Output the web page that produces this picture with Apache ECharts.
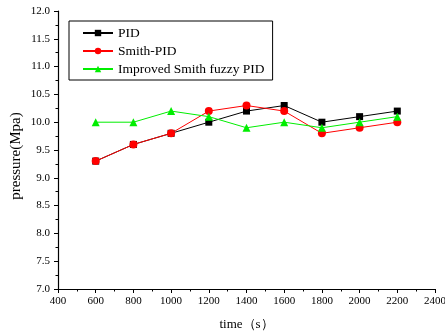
<!DOCTYPE html>
<html><head><meta charset="utf-8">
<script src="https://cdn.jsdelivr.net/npm/echarts@6/dist/echarts.min.js"></script>
<style>html,body{margin:0;padding:0;background:#fff}#c{width:445px;height:332px}</style>
</head><body><div id="c"></div>
<script>
var times = [600, 800, 1000, 1200, 1400, 1600, 1800, 2000, 2200];
var pid = [9.3, 9.6, 9.8, 10.0, 10.2, 10.3, 10.0, 10.1, 10.2];
var smithPid = [9.3, 9.6, 9.8, 10.2, 10.3, 10.2, 9.8, 9.9, 10.0];
var improved = [10.0, 10.0, 10.2, 10.1, 9.9, 10.0, 9.9, 10.0, 10.1];
var seriesNames = ['PID', 'Smith-PID', 'Improved Smith fuzzy PID'];

function pairs(v){ return times.map(function(t,i){ return [t, v[i]]; }); }
var font = 'Liberation Serif, Times New Roman, serif';
var chart = echarts.init(document.getElementById('c'));
chart.setOption({
  animation: false,
  textStyle: {fontFamily: font},
  grid: {left: 58, right: 10, top: 11, bottom: 43, containLabel: false, outerBoundsMode: 'none'},
  legend: {
    left: 69, top: 21, orient: 'vertical',
    padding: [5, 8, 4, 13], itemGap: 4, itemWidth: 30, itemHeight: 8,
    borderColor: '#000', borderWidth: 1,
    textStyle: {fontFamily: font, fontSize: 13.5, color: '#000'},
    data: seriesNames
  },
  xAxis: {
    type: 'value', min: 400, max: 2400, interval: 200,
    name: 'time（s）', nameLocation: 'middle', nameGap: 29,
    nameTextStyle: {fontFamily: font, fontSize: 13, color: '#000'},
    axisLine: {lineStyle: {color: '#000', width: 1.2}},
    axisTick: {length: 4, lineStyle: {color: '#000'}},
    minorTick: {show: true, splitNumber: 2, length: 2.5, lineStyle: {color: '#000'}},
    axisLabel: {fontFamily: font, fontSize: 11, color: '#000', margin: 7,
      formatter: function(v){ return String(v); }},
    splitLine: {show: false}
  },
  yAxis: {
    type: 'value', min: 7.0, max: 12.0, interval: 0.5,
    name: 'pressure(Mpa)', nameLocation: 'middle', nameGap: 34, nameMoveOverlap: false,
    nameTextStyle: {fontFamily: font, fontSize: 15, color: '#000', padding: [0, 12, 0, 0]},
    axisLine: {show: true, lineStyle: {color: '#000', width: 1.2}},
    axisTick: {show: true, length: 4, lineStyle: {color: '#000'}},
    minorTick: {show: true, splitNumber: 2, length: 2.5, lineStyle: {color: '#000'}},
    axisLabel: {fontFamily: font, fontSize: 11, color: '#000', margin: 8,
      formatter: function(v){ return v.toFixed(1); }},
    splitLine: {show: false}
  },
  series: [
    {name: seriesNames[0], type: 'line', data: pairs(pid), symbol: 'rect', symbolSize: 7,
     itemStyle: {color: '#000'}, lineStyle: {color: '#000', width: 1}},
    {name: seriesNames[1], type: 'line', data: pairs(smithPid), symbol: 'circle', symbolSize: 8,
     itemStyle: {color: '#ff0000'}, lineStyle: {color: '#ff0000', width: 1}},
    {name: seriesNames[2], type: 'line', data: pairs(improved), symbol: 'triangle', symbolSize: 8,
     itemStyle: {color: '#00ee00'}, lineStyle: {color: '#00ee00', width: 1}}
  ]
});
</script></body></html>
